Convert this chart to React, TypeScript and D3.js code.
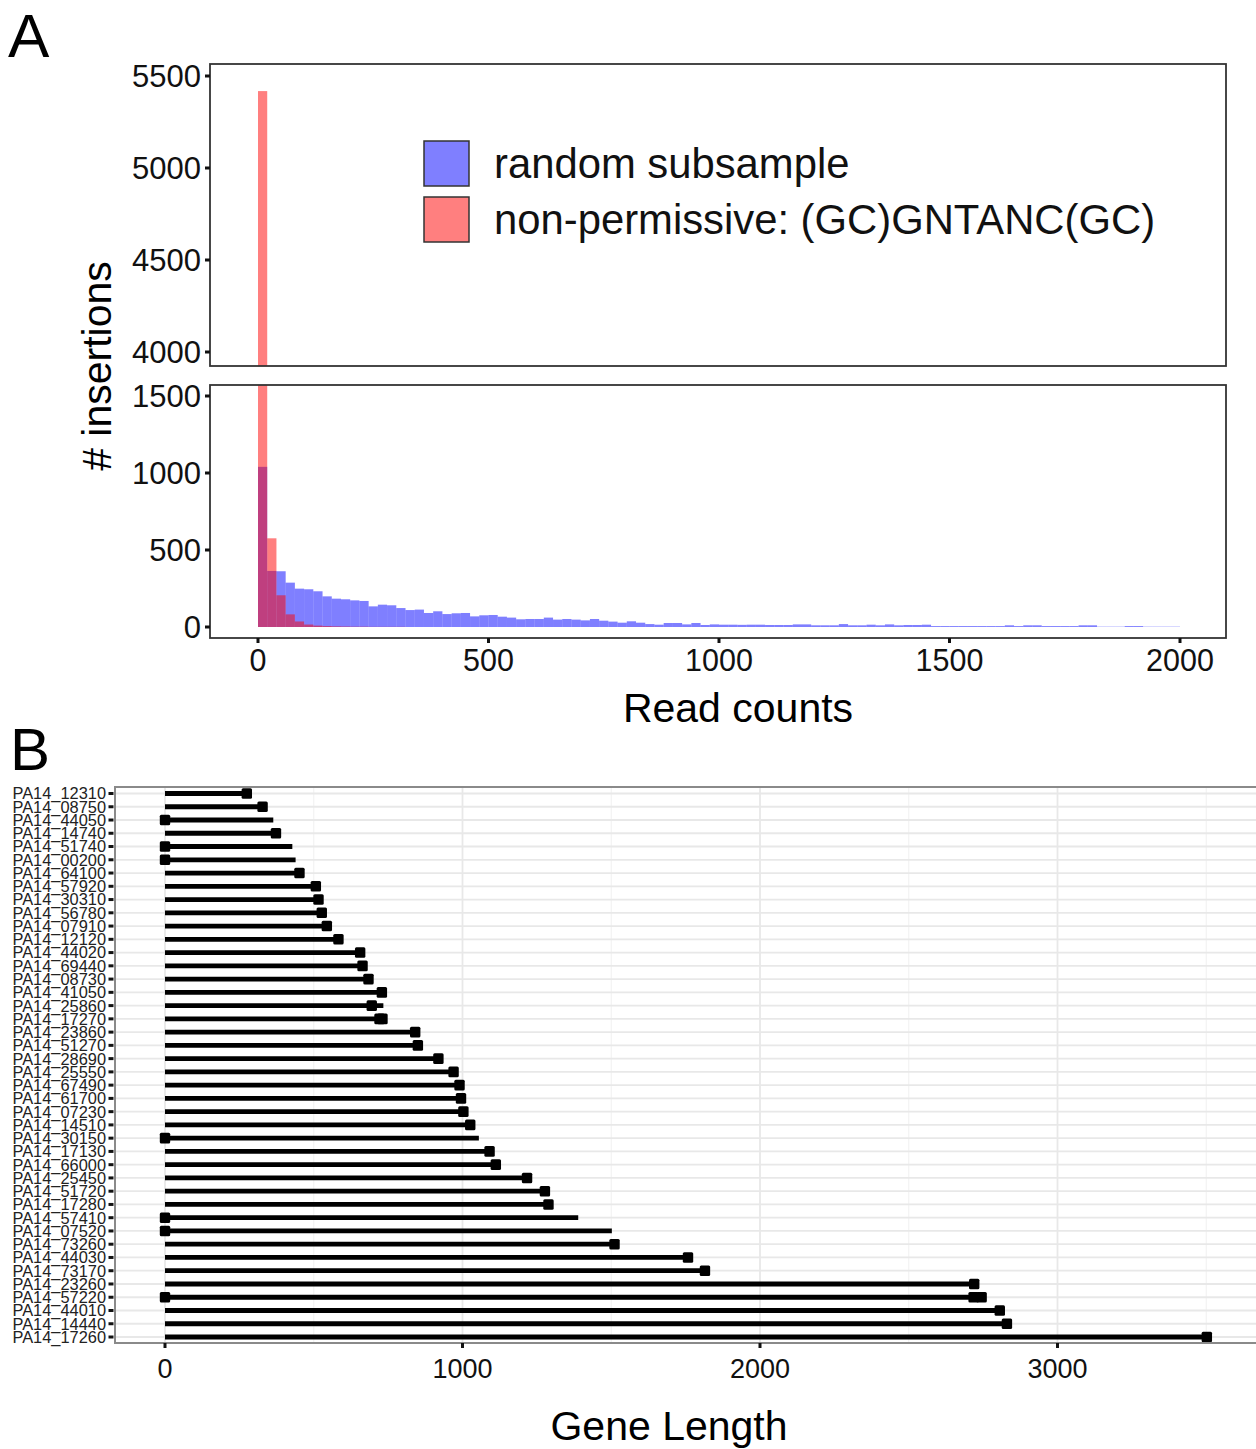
import React from "react";
import * as d3 from "d3";

// ---------- Panel A data: histogram of read counts (binwidth 20, bins from 0) ----------
const binWidth = 20;
const randomCounts = [
  1040, 364, 362, 288, 249, 245, 232, 199, 184, 180,
  173, 169, 134, 145, 141, 123, 110, 113, 91, 102,
  84, 89, 91, 69, 76, 78, 67, 61, 50, 52,
  52, 61, 48, 52, 48, 43, 52, 41, 35, 28,
  37, 28, 19, 15, 26, 26, 17, 26, 13, 17,
  15, 15, 14, 15, 15, 13, 13, 13, 17, 17,
  11, 11, 11, 19, 11, 11, 15, 11, 17, 11,
  13, 13, 15, 6, 6, 6, 6, 6, 6, 6,
  6, 11, 6, 11, 11, 6, 6, 6, 6, 11,
  11, 2, 2, 2, 6, 6, 2, 2, 2, 2,
];
const nonPermissiveCounts = [5418, 576, 206, 82, 36, 16, 9, 6, 4, 3, 2, 2, 1, 1, 1, 1];
const legendLabels = ["random subsample", "non-permissive: (GC)GNTANC(GC)"];
const xTicksA = [0, 500, 1000, 1500, 2000];
const yTicksTop = [4000, 4500, 5000, 5500];
const yTicksBottom = [0, 500, 1000, 1500];

// ---------- Panel B data ----------
const genes = [
  "PA14_12310", "PA14_08750", "PA14_44050", "PA14_14740", "PA14_51740", "PA14_00200",
  "PA14_64100", "PA14_57920", "PA14_30310", "PA14_56780", "PA14_07910", "PA14_12120",
  "PA14_44020", "PA14_69440", "PA14_08730", "PA14_41050", "PA14_25860", "PA14_17270",
  "PA14_23860", "PA14_51270", "PA14_28690", "PA14_25550", "PA14_67490", "PA14_61700",
  "PA14_07230", "PA14_14510", "PA14_30150", "PA14_17130", "PA14_66000", "PA14_25450",
  "PA14_51720", "PA14_17280", "PA14_57410", "PA14_07520", "PA14_73260", "PA14_44030",
  "PA14_73170", "PA14_23260", "PA14_57220", "PA14_44010", "PA14_14440", "PA14_17260",
];
const geneLength = [
  275, 328, 364, 373, 428, 439,
  452, 507, 516, 527, 544, 583,
  656, 664, 684, 729, 734, 731,
  841, 850, 919, 970, 990, 995,
  1003, 1026, 1055, 1091, 1112, 1217,
  1277, 1289, 1389, 1502, 1511, 1758,
  1815, 2720, 2748, 2806, 2830, 3502,
];
const sitePositions = [
  [275], [328], [0], [373], [0], [0],
  [452], [507], [516], [527], [544], [583],
  [656], [664], [684], [729], [695], [721, 731],
  [841], [850], [919], [970], [990], [995],
  [1003], [1026], [0], [1091], [1112], [1217],
  [1277], [1289], [0], [0], [1511], [1758],
  [1815], [2720], [0, 2718, 2745], [2806], [2830], [3502],
];
const xTicksB = [0, 1000, 2000, 3000];
const xMinorB = [500, 1500, 2500, 3500];

const FONT = "'Liberation Sans', Arial, Helvetica, sans-serif";

export default function App() {
  // Panel A layout
  const aL = 210, aR = 1226;
  const topT = 64, topB = 366;
  const botT = 385, botB = 638;
  const xA = d3.scaleLinear().domain([0, 2000]).range([258, 1180]);
  const yTop = d3.scaleLinear().domain([4000, 5500]).range([352, 76]);
  const yBot = d3.scaleLinear().domain([0, 1500]).range([627, 396]);

  const blueBins = randomCounts.map((c, i) => ({ x0: i * binWidth, x1: (i + 1) * binWidth, c }));
  const redBins = nonPermissiveCounts.map((c, i) => ({ x0: i * binWidth, x1: (i + 1) * binWidth, c }));

  // Panel B layout
  const bL = 115, bT = 787, bR = 1262, bB = 1343;
  const xB = d3.scaleLinear().domain([0, 3000]).range([165, 1057.5]);
  const yB = d3.scalePoint<string>().domain(genes).range([793.5, 1337]);

  const blue = "#0000ff";
  const red = "#ff0000";

  const barsFor = (yS: d3.ScaleLinear<number, number>, base: number) => (
    <>
      {blueBins.map((b, i) => (
        <rect key={"b" + i} x={xA(b.x0)} width={xA(b.x1) - xA(b.x0)} y={yS(b.c)} height={Math.max(0, base - yS(b.c))}
          fill={blue} fillOpacity={0.5} />
      ))}
      {redBins.map((b, i) => (
        <rect key={"r" + i} x={xA(b.x0)} width={xA(b.x1) - xA(b.x0)} y={yS(b.c)} height={Math.max(0, base - yS(b.c))}
          fill={red} fillOpacity={0.5} />
      ))}
    </>
  );

  return (
    <svg width={1256} height={1449} style={{ position: "absolute", left: 0, top: 0, background: "#fff" }}
      fontFamily={FONT}>
      <defs>
        <clipPath id="clipTop"><rect x={aL} y={topT} width={aR - aL} height={topB - topT} /></clipPath>
        <clipPath id="clipBot"><rect x={aL} y={botT} width={aR - aL} height={botB - botT} /></clipPath>
        <clipPath id="clipB"><rect x={bL} y={bT} width={bR - bL} height={bB - bT} /></clipPath>
      </defs>
      <rect x={0} y={0} width={1256} height={1449} fill="#fff" />

      {/* ---------------- Panel A ---------------- */}
      <text x={8} y={57} fontSize={62}>A</text>

      <g clipPath="url(#clipTop)">{barsFor(yTop, yTop(0))}</g>
      <g clipPath="url(#clipBot)">{barsFor(yBot, yBot(0))}</g>

      <rect x={aL} y={topT} width={aR - aL} height={topB - topT} fill="none" stroke="#333" strokeWidth={1.8} />
      <rect x={aL} y={botT} width={aR - aL} height={botB - botT} fill="none" stroke="#333" strokeWidth={1.8} />

      {yTicksTop.map((t) => (
        <g key={"yt" + t}>
          <line x1={aL - 5} x2={aL} y1={yTop(t)} y2={yTop(t)} stroke="#111" strokeWidth={3} />
          <text x={aL - 9} y={yTop(t)} dy="0.36em" textAnchor="end" fontSize={31} fill="#111">{t}</text>
        </g>
      ))}
      {yTicksBottom.map((t) => (
        <g key={"yb" + t}>
          <line x1={aL - 5} x2={aL} y1={yBot(t)} y2={yBot(t)} stroke="#111" strokeWidth={3} />
          <text x={aL - 9} y={yBot(t)} dy="0.36em" textAnchor="end" fontSize={31} fill="#111">{t}</text>
        </g>
      ))}
      {xTicksA.map((t) => (
        <g key={"xa" + t}>
          <line x1={xA(t)} x2={xA(t)} y1={botB} y2={botB + 5} stroke="#111" strokeWidth={3} />
          <text x={xA(t)} y={671} textAnchor="middle" fontSize={30.5} fill="#111">{t}</text>
        </g>
      ))}
      <text x={738} y={722} textAnchor="middle" fontSize={41}>Read counts</text>
      <text transform="translate(111,366) rotate(-90)" textAnchor="middle" fontSize={41}># insertions</text>

      {/* legend */}
      {legendLabels.map((lab, i) => (
        <g key={lab}>
          <rect x={424} y={141 + i * 56} width={45} height={45} fill="#fff" />
          <rect x={424} y={141 + i * 56} width={45} height={45} fill={i === 0 ? blue : red} fillOpacity={0.5}
            stroke="#333" strokeWidth={1.5} />
          <text x={494} y={178 + i * 56} fontSize={41.8} fill="#111">{lab}</text>
        </g>
      ))}

      {/* ---------------- Panel B ---------------- */}
      <text x={10} y={770} fontSize={60}>B</text>

      <g clipPath="url(#clipB)">
        {xMinorB.map((t) => (
          <line key={"mn" + t} x1={xB(t)} x2={xB(t)} y1={bT} y2={bB} stroke="#f3f3f3" strokeWidth={1.2} />
        ))}
        {genes.map((g) => (
          <line key={"hg" + g} x1={bL} x2={bR} y1={yB(g)} y2={yB(g)} stroke="#e8e8e8" strokeWidth={1.8} />
        ))}
        {xTicksB.map((t) => (
          <line key={"mj" + t} x1={xB(t)} x2={xB(t)} y1={bT} y2={bB} stroke="#e8e8e8" strokeWidth={1.8} />
        ))}
        {genes.map((g, i) => (
          <line key={"seg" + g} x1={xB(0)} x2={xB(geneLength[i])} y1={yB(g)} y2={yB(g)} stroke="#000" strokeWidth={4.8} />
        ))}
        {genes.map((g, i) =>
          sitePositions[i].map((p, j) => (
            <rect key={"pt" + g + j} x={xB(p) - 5.2} y={(yB(g) as number) - 5.3} width={10.4} height={10.6} rx={1.5}
              fill="#000" />
          ))
        )}
      </g>
      <rect x={bL} y={bT} width={bR - bL} height={bB - bT} fill="none" stroke="#8a8a8a" strokeWidth={2} />

      {genes.map((g) => (
        <g key={"yl" + g}>
          <line x1={108.5} x2={113.5} y1={yB(g)} y2={yB(g)} stroke="#111" strokeWidth={3} />
          <text x={106} y={yB(g)} dy="0.36em" textAnchor="end" fontSize={16.4} fill="#222">{g}</text>
        </g>
      ))}
      {xTicksB.map((t) => (
        <g key={"xb" + t}>
          <line x1={xB(t)} x2={xB(t)} y1={bB} y2={bB + 5} stroke="#111" strokeWidth={3} />
          <text x={xB(t)} y={1378} textAnchor="middle" fontSize={27} fill="#111">{t}</text>
        </g>
      ))}
      <text x={669} y={1440} textAnchor="middle" fontSize={41}>Gene Length</text>
    </svg>
  );
}
